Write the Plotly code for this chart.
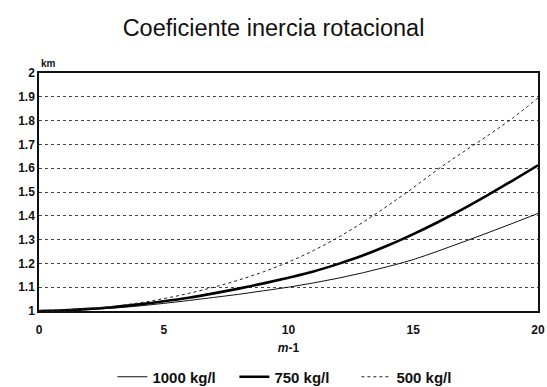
import plotly.graph_objects as go

x_vals = list(range(0, 21))
y_1000 = [1.0, 1.002, 1.006, 1.012, 1.021, 1.032, 1.044, 1.057, 1.07, 1.085, 1.10,
          1.118, 1.138, 1.161, 1.187, 1.216, 1.252, 1.290, 1.329, 1.369, 1.41]
y_750 = [1.0, 1.003, 1.009, 1.017, 1.028, 1.041, 1.056, 1.074, 1.094, 1.116, 1.14,
         1.166, 1.198, 1.234, 1.276, 1.323, 1.374, 1.429, 1.488, 1.549, 1.612]
y_500 = [1.0, 1.004, 1.01, 1.02, 1.034, 1.052, 1.074, 1.10, 1.13, 1.165, 1.206,
         1.254, 1.31, 1.374, 1.444, 1.518, 1.596, 1.668, 1.738, 1.812, 1.895]
series_names = ["1000 kg/l", "750 kg/l", "500 kg/l"]
y_ticks = [1, 1.1, 1.2, 1.3, 1.4, 1.5, 1.6, 1.7, 1.8, 1.9, 2]
y_tick_text = ["1", "1.1", "1.2", "1.3", "1.4", "1.5", "1.6", "1.7", "1.8", "1.9", "2"]
x_ticks = [0, 5, 10, 15, 20]

FONT = "Liberation Sans, Arial, sans-serif"

fig = go.Figure()
fig.add_trace(go.Scatter(x=x_vals, y=y_1000, mode="lines", name=series_names[0],
                         line=dict(color="#111", width=1, shape="spline")))
fig.add_trace(go.Scatter(x=x_vals, y=y_750, mode="lines", name=series_names[1],
                         line=dict(color="#000", width=2.6, shape="spline")))
fig.add_trace(go.Scatter(x=x_vals, y=y_500, mode="lines", name=series_names[2],
                         line=dict(color="#222", width=1, dash="3px,3px", shape="spline")))

fig.update_layout(
    width=547, height=387,
    margin=dict(l=39, r=9, t=73, b=76, autoexpand=False),
    paper_bgcolor="white", plot_bgcolor="white",
    font=dict(family=FONT, color="#111"),
    title=dict(text="Coeficiente inercia rotacional", x=0.5, xref="container",
               xanchor="center", y=1 - 28 / 387, yanchor="middle",
               font=dict(size=23.5, family=FONT, color="#111")),
    showlegend=True,
    legend=dict(orientation="h", x=0.54, xanchor="center", xref="container",
                yref="container", y=1 - 377 / 387, yanchor="middle",
                font=dict(size=15, family=FONT, weight="bold"), itemwidth=30,
                entrywidth=77, entrywidthmode="pixels",
                traceorder="normal", bgcolor="rgba(0,0,0,0)"),
    xaxis=dict(range=[0, 20], tickvals=x_ticks, showgrid=False, zeroline=False,
               showline=True, linecolor="#111", linewidth=1.5, mirror=True,
               ticks="", ticklabelstandoff=7, automargin=False,
               tickfont=dict(size=12, family=FONT, weight="bold"),
               title=dict(text="<i>m</i>-1", font=dict(size=12, family=FONT, weight="bold"),
                          standoff=7)),
    yaxis=dict(range=[1, 2], tickvals=y_ticks, ticktext=y_tick_text, showgrid=True,
               gridcolor="#444", griddash="3px,3px", gridwidth=1, zeroline=False,
               showline=True, linecolor="#111", linewidth=1.5, mirror=True,
               ticks="", automargin=False,
               tickfont=dict(size=12, family=FONT, weight="bold")),
)

fig.add_annotation(text="km", xref="paper", yref="paper", x=0.0, y=1.0,
                   xanchor="left", yanchor="bottom", yshift=2, showarrow=False,
                   font=dict(size=10, family=FONT, weight="bold"))

fig.write_html("out.html")
